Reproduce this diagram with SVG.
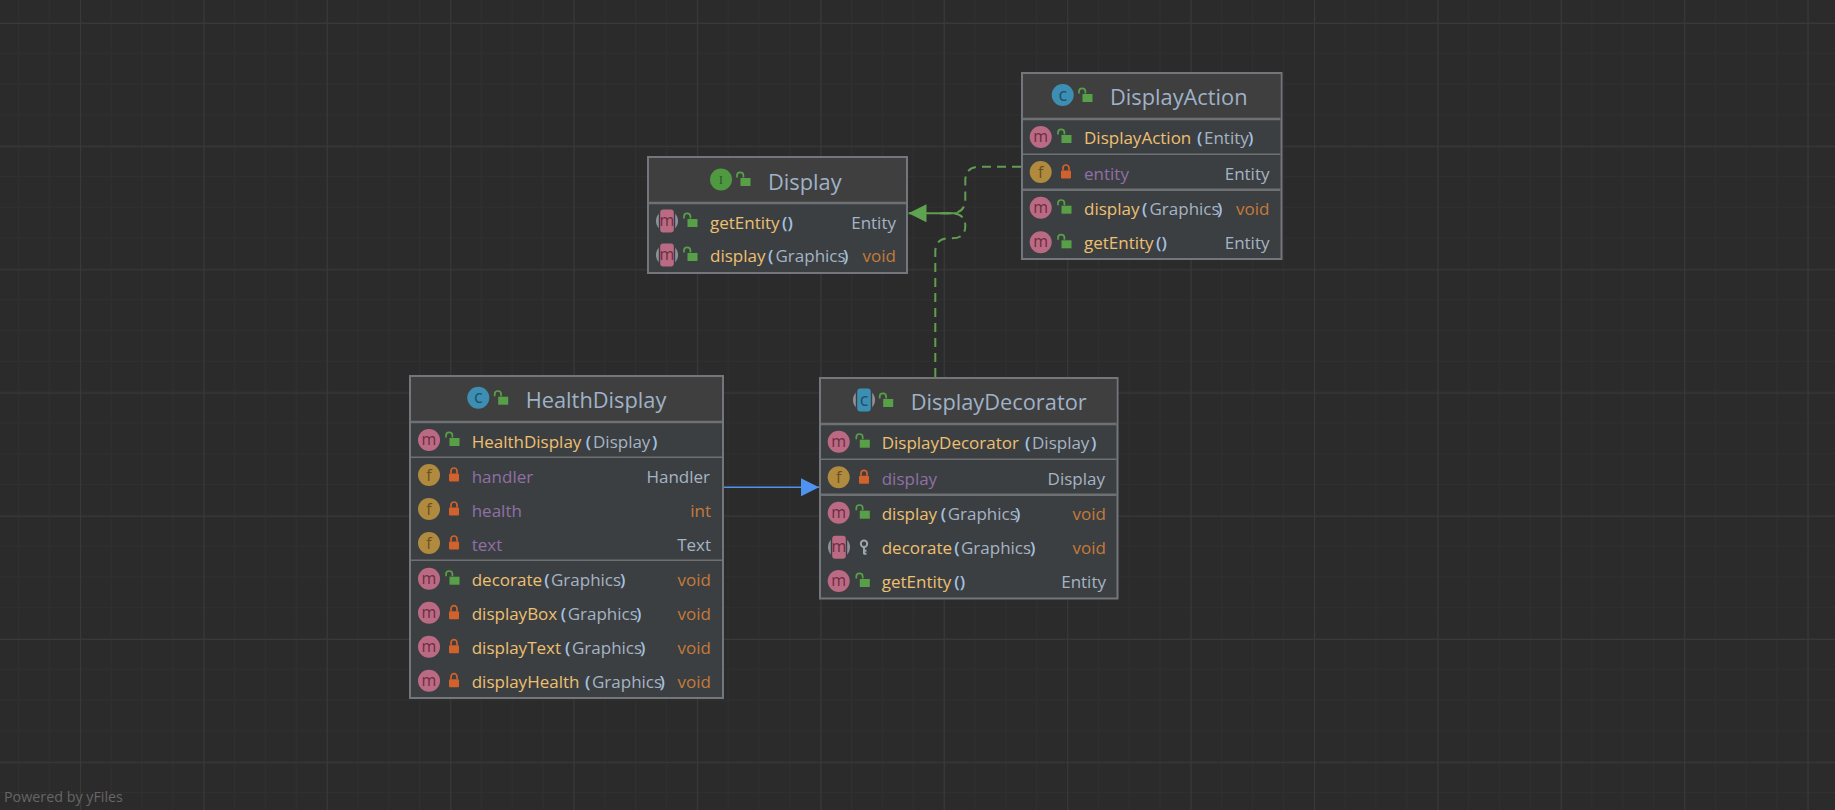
<svg xmlns="http://www.w3.org/2000/svg" xmlns:xlink="http://www.w3.org/1999/xlink" width="1835" height="810" viewBox="0 0 1835 810">
<style>
text{font-family:"Open Sans","Noto Sans","Liberation Sans",sans-serif;font-size:17px}
.box{fill:#3c3f41;stroke:#73767a;stroke-width:2}
.hd{fill:#3f3f3f}
.dv{stroke:#6e7173;stroke-width:1.5}
.dv2{stroke:#6e7173;stroke-width:2.5}
.t{font-size:21.8px;fill:#9fb2c8}
.n{fill:#eec071}
.f{fill:#8f70a6}
.ty{fill:#a5b4c4;text-anchor:end}
.v{fill:#c57a3a;text-anchor:end}
.p{fill:#a5b4c4}
.b{fill:#a3c2e2;font-weight:600}
.il{font-size:16px;text-anchor:middle;fill:#6b2d42}
.ilf{font-size:16px;text-anchor:middle;fill:#6b4f1c}
.ilc{font-size:18px;text-anchor:middle;fill:#1f5068}
.ili{font-size:13px;text-anchor:middle;fill:#2c5a25;font-family:"Liberation Serif",serif}
.im{fill:#bb6a84}
.if{fill:#b08a3e}
.ic{fill:#3c8fb2}
.ii{fill:#4f9a40}
.ln{fill:none;stroke-width:2}
.wm{font-size:14.3px;fill:#666666}
</style>
<defs>
<pattern id="minor" width="30.85" height="30.8" patternUnits="userSpaceOnUse" x="18" y="22">
<path d="M0.5 0V30.8M0 0.5H30.85" fill="none" stroke="#303030" stroke-width="1"/>
</pattern>
<pattern id="major" width="123.4" height="123.2" patternUnits="userSpaceOnUse" x="80" y="23">
<path d="M0.5 0V123.2M0 0.5H123.4" fill="none" stroke="#393939" stroke-width="1"/>
</pattern>
<g id="open"><rect x="-3.5" y="-2" width="10" height="8" fill="#58a047"/><path d="M-7 -2.5v-2a3.2 3.2 0 0 1 6.4 0v2" fill="none" stroke="#58a047" stroke-width="1.7"/></g>
<g id="closed"><rect x="-5" y="-1.5" width="10" height="8" rx="1" fill="#d1622c"/><path d="M-3 -1.5v-2.5a3 3 0 0 1 6 0v2.5" fill="none" stroke="#d1622c" stroke-width="1.7"/></g>
<g id="key"><circle cx="0" cy="-3.5" r="3.2" fill="none" stroke="#9aa7b0" stroke-width="2"/><path d="M0 -0.5V7M0 3.5H2.5M0 6.5H2.5" fill="none" stroke="#9aa7b0" stroke-width="2"/></g>
<g id="absM"><circle r="11" fill="#8f9296"/><rect x="-8.2" y="-12" width="16.4" height="24" fill="#3c3f41"/><rect x="-6.8" y="-11.5" width="13.6" height="23" rx="3" fill="#bb6a84"/></g>
<g id="absC"><circle r="11" fill="#8f9296"/><rect x="-8.2" y="-12" width="16.4" height="24" fill="#3c3f41"/><rect x="-6.8" y="-11.5" width="13.6" height="23" rx="3" fill="#3c8fb2"/></g>
<marker id="arrG" viewBox="0 0 18 18" markerWidth="18" markerHeight="18" refX="18" refY="9" orient="auto" markerUnits="userSpaceOnUse"><path d="M0 0L18 9L0 18Z" fill="#5fa24f"/></marker>
<marker id="arrB" viewBox="0 0 18 18" markerWidth="18" markerHeight="18" refX="18" refY="9" orient="auto" markerUnits="userSpaceOnUse"><path d="M0 0L18 9L0 18Z" fill="#4f93ee"/></marker>
</defs>
<rect width="1835" height="810" fill="#2b2b2b"/>
<rect width="1835" height="810" fill="url(#minor)"/>
<rect width="1835" height="810" fill="url(#major)"/>

<g id="connectors">
<path class="ln" stroke="#5f9e50" stroke-dasharray="9 6" d="M1021 166.7H980Q965.3 166.7 965.3 181V199Q965.3 213.3 951 213.3H940"/>
<path class="ln" stroke="#5f9e50" stroke-dasharray="9 6" d="M935.3 377V252Q935.3 238.3 949 238.3H952Q965.3 238.3 965.3 226Q965.3 213.3 951 213.3H940"/>
<path class="ln" stroke="#5f9e50" marker-end="url(#arrG)" d="M958 213.3H908.5"/>
<path class="ln" stroke="#4f93ee" style="stroke-width:1.5" marker-end="url(#arrB)" d="M724 487.3H819"/>
</g>

<g id="node-display">
<rect class="box" x="648" y="157" width="259" height="116"/>
<rect class="hd" x="649" y="158" width="257" height="45"/>
<line class="dv2" x1="649" y1="203" x2="906" y2="203"/>
<circle class="ii" cx="721" cy="179.5" r="11"/><text class="ili" x="721" y="184">I</text><use href="#open" x="744" y="180"/>
<text class="t" x="768" y="190">Display</text>
<use href="#absM" x="667" y="221"/><text class="il" x="667" y="226">m</text><use href="#open" x="691" y="221"/>
<text x="710" y="229"><tspan class="n">getEntity</tspan><tspan class="b" x="782">()</tspan></text>
<text class="ty" x="896" y="229">Entity</text>
<use href="#absM" x="667" y="255"/><text class="il" x="667" y="260">m</text><use href="#open" x="691" y="255"/>
<text x="710" y="262"><tspan class="n">display</tspan><tspan class="b" x="768">(</tspan><tspan class="p" x="775.5">Graphics</tspan><tspan class="b" x="843">)</tspan></text>
<text class="v" x="896" y="262">void</text>
</g>

<g id="node-displayaction">
<rect class="box" x="1022" y="73" width="259.5" height="186"/>
<rect class="hd" x="1023" y="74" width="257.5" height="45"/>
<line class="dv2" x1="1023" y1="119" x2="1280.5" y2="119"/>
<line class="dv" x1="1023" y1="154.3" x2="1280.5" y2="154.3"/>
<line class="dv2" x1="1023" y1="189.7" x2="1280.5" y2="189.7"/>
<circle class="ic" cx="1062.7" cy="95" r="11"/><text class="ilc" x="1062.7" y="100.5">c</text><use href="#open" x="1086" y="96"/>
<text class="t" x="1110" y="105">DisplayAction</text>
<circle class="im" cx="1040.7" cy="137" r="11"/><text class="il" x="1040.7" y="142">m</text><use href="#open" x="1065" y="137"/>
<text x="1084" y="144.3"><tspan class="n">DisplayAction</tspan><tspan class="b" x="1197">(</tspan><tspan class="p" x="1204">Entity</tspan><tspan class="b" x="1248">)</tspan></text>
<circle class="if" cx="1040.7" cy="172" r="11"/><text class="ilf" x="1040.7" y="177.5">f</text><use href="#closed" x="1066" y="172"/>
<text class="f" x="1084" y="180">entity</text>
<text class="ty" x="1269.5" y="180">Entity</text>
<circle class="im" cx="1040.7" cy="207.7" r="11"/><text class="il" x="1040.7" y="212.7">m</text><use href="#open" x="1065" y="207.7"/>
<text x="1084" y="215"><tspan class="n">display</tspan><tspan class="b" x="1142">(</tspan><tspan class="p" x="1149.5">Graphics</tspan><tspan class="b" x="1217">)</tspan></text>
<text class="v" x="1269.5" y="215">void</text>
<circle class="im" cx="1040.7" cy="242.3" r="11"/><text class="il" x="1040.7" y="247.3">m</text><use href="#open" x="1065" y="242.3"/>
<text x="1084" y="249.3"><tspan class="n">getEntity</tspan><tspan class="b" x="1156">()</tspan></text>
<text class="ty" x="1269.5" y="249.3">Entity</text>
</g>

<g id="node-healthdisplay">
<rect class="box" x="410" y="376" width="313" height="322"/>
<rect class="hd" x="411" y="377" width="311" height="45"/>
<line class="dv2" x1="411" y1="422" x2="722" y2="422"/>
<line class="dv" x1="411" y1="457.3" x2="722" y2="457.3"/>
<line class="dv" x1="411" y1="560.3" x2="722" y2="560.3"/>
<circle class="ic" cx="478.3" cy="397.7" r="11"/><text class="ilc" x="478.3" y="403.2">c</text><use href="#open" x="501.7" y="398.7"/>
<text class="t" x="525.7" y="408.3">HealthDisplay</text>
<circle class="im" cx="429" cy="440" r="11"/><text class="il" x="429" y="445">m</text><use href="#open" x="453" y="440"/>
<text x="471.7" y="447.7"><tspan class="n">HealthDisplay</tspan><tspan class="b" x="585.7">(</tspan><tspan class="p" x="593">Display</tspan><tspan class="b" x="652">)</tspan></text>
<circle class="if" cx="429" cy="475" r="11"/><text class="ilf" x="429" y="480.5">f</text><use href="#closed" x="454" y="475"/>
<text class="f" x="471.7" y="482.7">handler</text><text class="ty" x="710" y="482.7">Handler</text>
<circle class="if" cx="429" cy="509" r="11"/><text class="ilf" x="429" y="514.5">f</text><use href="#closed" x="454" y="509"/>
<text class="f" x="471.7" y="516.7">health</text><text class="v" x="711" y="516.7">int</text>
<circle class="if" cx="429" cy="543" r="11"/><text class="ilf" x="429" y="548.5">f</text><use href="#closed" x="454" y="543"/>
<text class="f" x="471.7" y="550.7">text</text><text class="ty" x="711" y="550.7">Text</text>
<circle class="im" cx="429" cy="578.7" r="11"/><text class="il" x="429" y="583.7">m</text><use href="#open" x="453" y="578.7"/>
<text x="471.7" y="586"><tspan class="n">decorate</tspan><tspan class="b" x="544.3">(</tspan><tspan class="p" x="551">Graphics</tspan><tspan class="b" x="620">)</tspan></text>
<text class="v" x="711" y="586">void</text>
<circle class="im" cx="429" cy="612.7" r="11"/><text class="il" x="429" y="617.7">m</text><use href="#closed" x="454" y="612.7"/>
<text x="471.7" y="620"><tspan class="n">displayBox</tspan><tspan class="b" x="560.7">(</tspan><tspan class="p" x="567.7">Graphics</tspan><tspan class="b" x="636">)</tspan></text>
<text class="v" x="711" y="620">void</text>
<circle class="im" cx="429" cy="646.7" r="11"/><text class="il" x="429" y="651.7">m</text><use href="#closed" x="454" y="646.7"/>
<text x="471.7" y="654"><tspan class="n">displayText</tspan><tspan class="b" x="565">(</tspan><tspan class="p" x="572">Graphics</tspan><tspan class="b" x="640">)</tspan></text>
<text class="v" x="711" y="654">void</text>
<circle class="im" cx="429" cy="680.7" r="11"/><text class="il" x="429" y="685.7">m</text><use href="#closed" x="454" y="680.7"/>
<text x="471.7" y="687.7"><tspan class="n">displayHealth</tspan><tspan class="b" x="585">(</tspan><tspan class="p" x="592">Graphics</tspan><tspan class="b" x="659.5">)</tspan></text>
<text class="v" x="711" y="687.7">void</text>
</g>

<g id="node-displaydecorator">
<rect class="box" x="820" y="378" width="297.5" height="220.5"/>
<rect class="hd" x="821" y="379" width="295.5" height="45"/>
<line class="dv2" x1="821" y1="424" x2="1116.5" y2="424"/>
<line class="dv" x1="821" y1="459.3" x2="1116.5" y2="459.3"/>
<line class="dv2" x1="821" y1="494.7" x2="1116.5" y2="494.7"/>
<use href="#absC" x="864" y="400"/><text class="ilc" x="864" y="405.5">c</text><use href="#open" x="886.7" y="401"/>
<text class="t" x="910.7" y="410">DisplayDecorator</text>
<circle class="im" cx="838.7" cy="441.7" r="11"/><text class="il" x="838.7" y="446.7">m</text><use href="#open" x="863.3" y="441.7"/>
<text x="881.7" y="449.3"><tspan class="n">DisplayDecorator</tspan><tspan class="b" x="1025">(</tspan><tspan class="p" x="1032">Display</tspan><tspan class="b" x="1091">)</tspan></text>
<circle class="if" cx="838.7" cy="477.3" r="11"/><text class="ilf" x="838.7" y="482.8">f</text><use href="#closed" x="864" y="477.3"/>
<text class="f" x="881.7" y="485">display</text><text class="ty" x="1105" y="485">Display</text>
<circle class="im" cx="838.7" cy="512.7" r="11"/><text class="il" x="838.7" y="517.7">m</text><use href="#open" x="863.3" y="512.7"/>
<text x="881.7" y="520"><tspan class="n">display</tspan><tspan class="b" x="940.7">(</tspan><tspan class="p" x="947.7">Graphics</tspan><tspan class="b" x="1015">)</tspan></text>
<text class="v" x="1106" y="520">void</text>
<use href="#absM" x="839" y="547.3"/><text class="il" x="839" y="552.3">m</text><use href="#key" x="864" y="547.3"/>
<text x="881.7" y="554.3"><tspan class="n">decorate</tspan><tspan class="b" x="954.3">(</tspan><tspan class="p" x="961">Graphics</tspan><tspan class="b" x="1030">)</tspan></text>
<text class="v" x="1106" y="554.3">void</text>
<circle class="im" cx="838.7" cy="581" r="11"/><text class="il" x="838.7" y="586">m</text><use href="#open" x="863.3" y="581"/>
<text x="881.7" y="588"><tspan class="n">getEntity</tspan><tspan class="b" x="954.3">()</tspan></text>
<text class="ty" x="1106" y="588">Entity</text>
</g>

<text class="wm" x="4" y="802">Powered by yFiles</text>
</svg>
